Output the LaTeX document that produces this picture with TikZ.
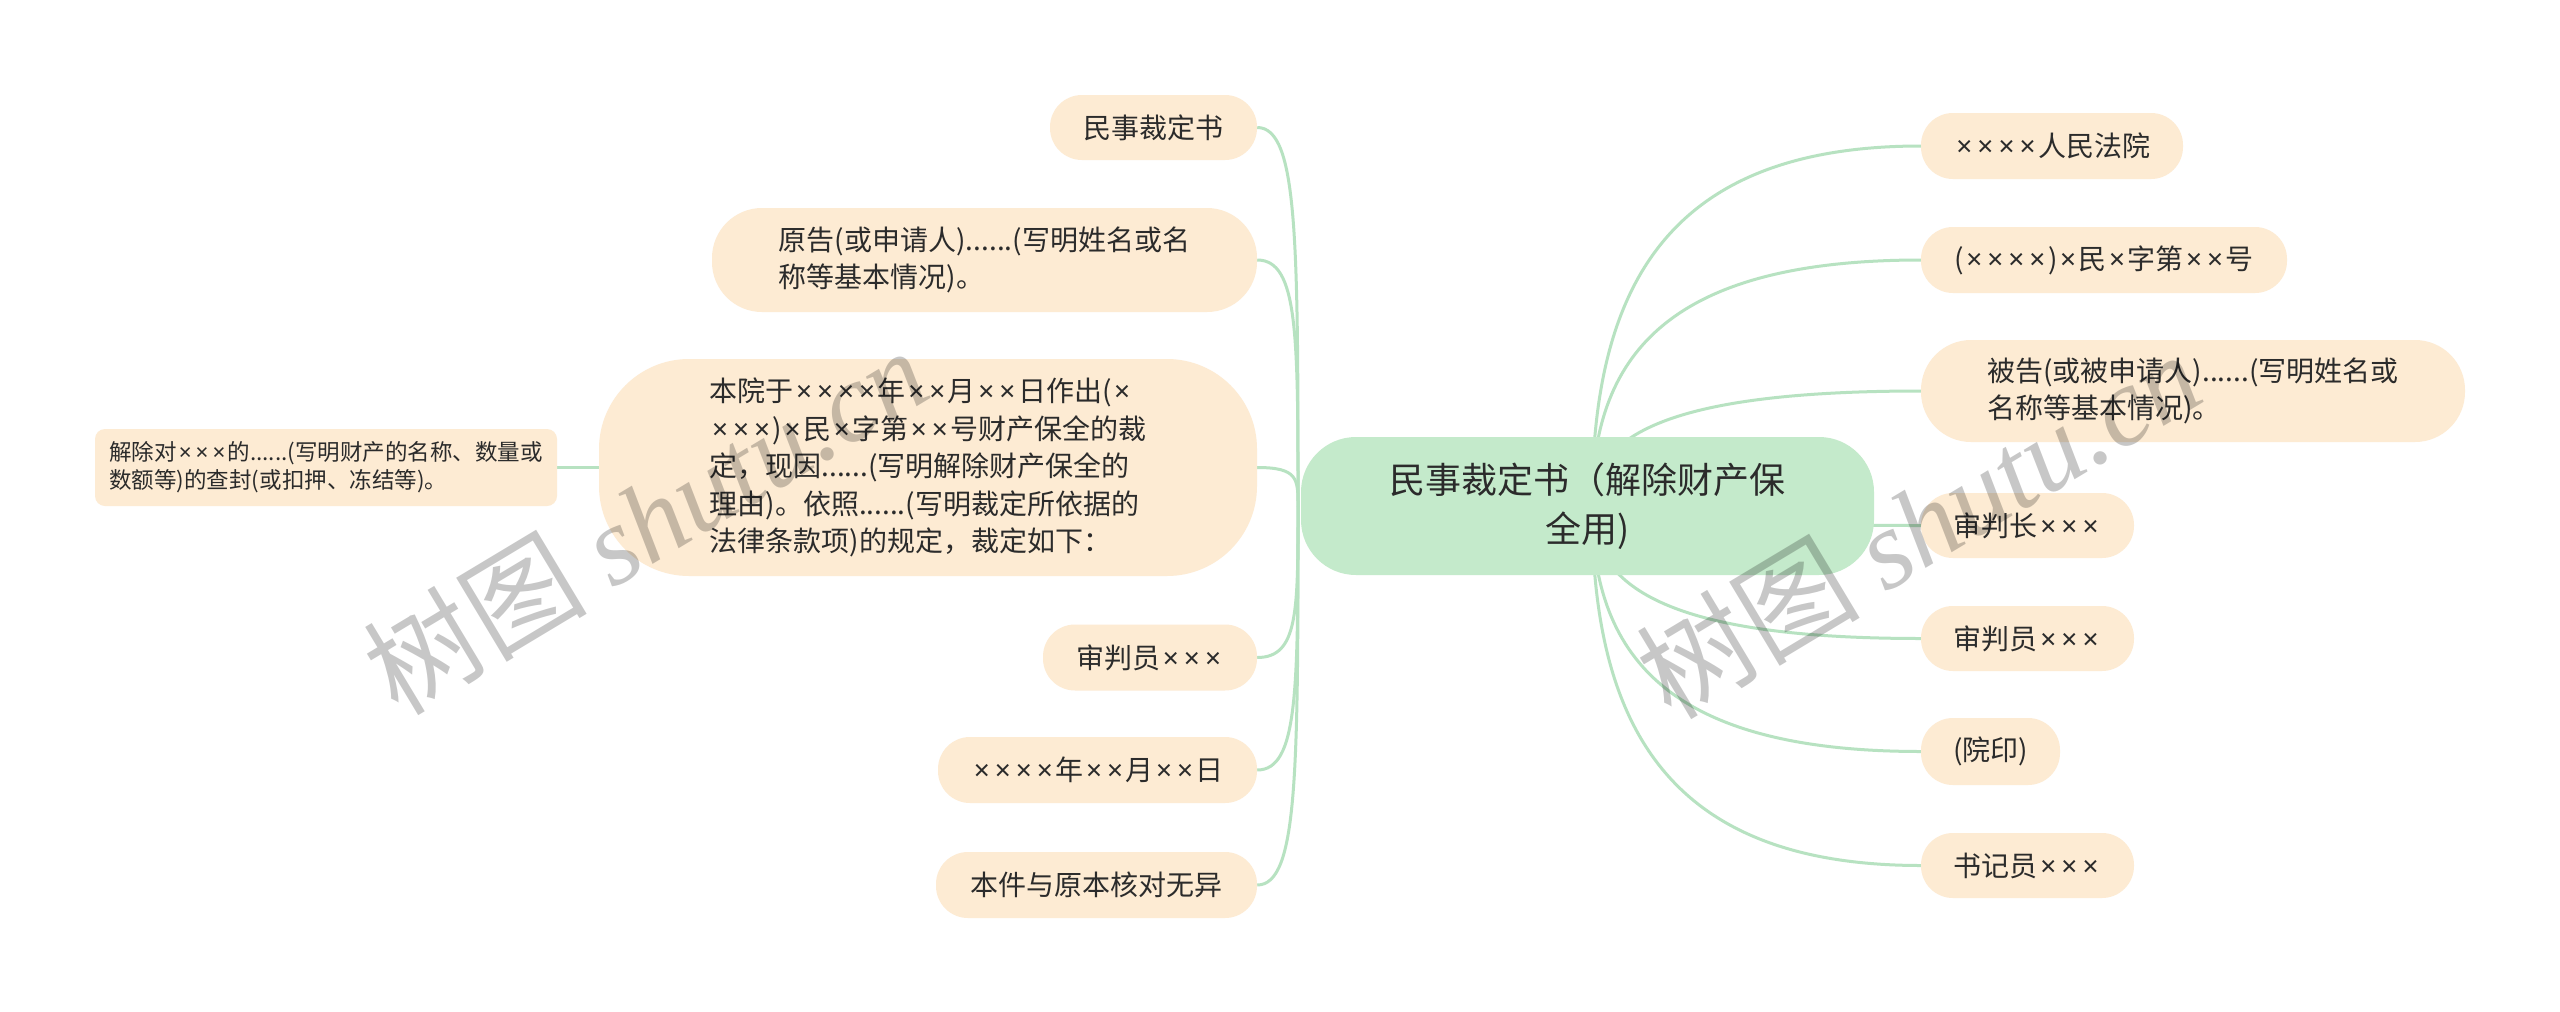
\documentclass[tikz,border=0pt]{standalone}
\usepackage{fontspec}
\setmainfont{Noto Sans CJK SC}
\newfontfamily\wmserif{Liberation Serif}
\newfontfamily\latinf{Noto Sans}
\newcommand\tms{{\latinf\kern0.09em×\kern0.09em}}
\usetikzlibrary{calc,backgrounds}
\definecolor{nodefill}{HTML}{FDEBD3}
\definecolor{rootfill}{HTML}{C4EACB}
\definecolor{linkcol}{HTML}{B7E2C1}
\definecolor{txt}{HTML}{2B2B2B}
\newcommand\rlink[1]{\draw[link] let \p0=(rs), \p3=(#1.west) in (\p0) .. controls (\x0,{\y3+0.4*(\y0-(\y3))}) and ({\x0+0.22*(\x3-(\x0))},\y3) .. (\p3);}
\newcommand\llink[1]{\draw[link] let \p0=(ls), \p3=(#1.east) in (\p0) .. controls (\x0,{\y3+0.3*(\y0-(\y3))}) and (\x0,\y3) .. (\p3);}
\begin{document}
\begin{tikzpicture}[x=1pt,y=-1pt,
  leaf/.style={fill=nodefill, text=txt, inner sep=0pt, rounded corners=32pt,
    font=\fontsize{28pt}{37.5pt}\selectfont, align=left},
  smallleaf/.style={fill=nodefill, text=txt, inner sep=0pt, rounded corners=10pt,
    font=\fontsize{22.5pt}{28pt}\selectfont, align=left},
  rootbox/.style={fill=rootfill, text=txt, inner sep=0pt, rounded corners=55pt,
    font=\fontsize{36pt}{49pt}\selectfont, align=center},
  link/.style={draw=linkcol, line width=3pt},
  wmark/.style={rotate=31, text=black, text opacity=0.22,
    font=\fontsize{112pt}{118pt}\selectfont}
]
\useasboundingbox (0,0) rectangle (2560,1012);

% root
\node[rootbox, minimum width=573pt, minimum height=138pt] (root) at (1587.5,506) {民事裁定书（解除财产保\\全用)};
\coordinate (rs) at (1592,506);
\coordinate (ls) at (1298,506);

% left children
\node[leaf, minimum width=207pt, minimum height=65pt] (l1) at (1153.5,127.5) {民事裁定书};
\node[leaf, minimum width=545pt, minimum height=104pt, rounded corners=50pt] (l2) at (984.5,260) {原告(或申请人)......(写明姓名或名\\称等基本情况)。};
\node[leaf, minimum width=658pt, minimum height=217pt, rounded corners=90pt] (l3) at (928,467.5) {本院于\tms\tms\tms\tms 年\tms\tms 月\tms\tms 日作出(\tms\\\tms\tms\tms)\tms 民\tms 字第\tms\tms 号财产保全的裁\\定，现因......(写明解除财产保全的\\理由)。依照......(写明裁定所依据的\\法律条款项)的规定，裁定如下：};
\node[leaf, minimum width=214pt, minimum height=66pt] (l4) at (1150,657.5) {审判员\tms\tms\tms};
\node[leaf, minimum width=319pt, minimum height=66pt] (l5) at (1097.5,770) {\tms\tms\tms\tms 年\tms\tms 月\tms\tms 日};
\node[leaf, minimum width=321pt, minimum height=66pt] (l6) at (1096.5,885) {本件与原本核对无异};
\node[smallleaf, minimum width=462pt, minimum height=77pt] (l3a) at (326,467.5) {解除对\tms\tms\tms 的......(写明财产的名称、数量或\\数额等)的查封(或扣押、冻结等)。};

% right children
\node[leaf, minimum width=262pt, minimum height=66pt] (r1) at (2052,146) {\tms\tms\tms\tms 人民法院};
\node[leaf, minimum width=366pt, minimum height=66pt] (r2) at (2104,260) {(\tms\tms\tms\tms)\tms 民\tms 字第\tms\tms 号};
\node[leaf, minimum width=544pt, minimum height=102pt, rounded corners=50pt] (r3) at (2193,391) {被告(或被申请人)......(写明姓名或\\名称等基本情况)。};
\node[leaf, minimum width=213pt, minimum height=65pt] (r4) at (2027.5,525.5) {审判长\tms\tms\tms};
\node[leaf, minimum width=213pt, minimum height=65pt] (r5) at (2027.5,638.5) {审判员\tms\tms\tms};
\node[leaf, minimum width=139pt, minimum height=67pt] (r6) at (1990.5,751.5) {(院印)};
\node[leaf, minimum width=213pt, minimum height=65pt] (r7) at (2027.5,865.5) {书记员\tms\tms\tms};

\begin{scope}[on background layer]
  \fill[white] (0,0) rectangle (2560,1012);
  \llink{l1}\llink{l2}\llink{l3}\llink{l4}\llink{l5}\llink{l6}
  \rlink{r1}\rlink{r2}\rlink{r3}\rlink{r4}\rlink{r5}\rlink{r6}\rlink{r7}
  \draw[link] (l3.west) -- (l3a.east);
\end{scope}

% watermarks
\node[wmark] (wm1) at (645,520) {树图 {\wmserif\itshape shutu.cn}};
\node[wmark] (wm2) at (1918,524) {树图 {\wmserif\itshape shutu.cn}};
\end{tikzpicture}
\end{document}
